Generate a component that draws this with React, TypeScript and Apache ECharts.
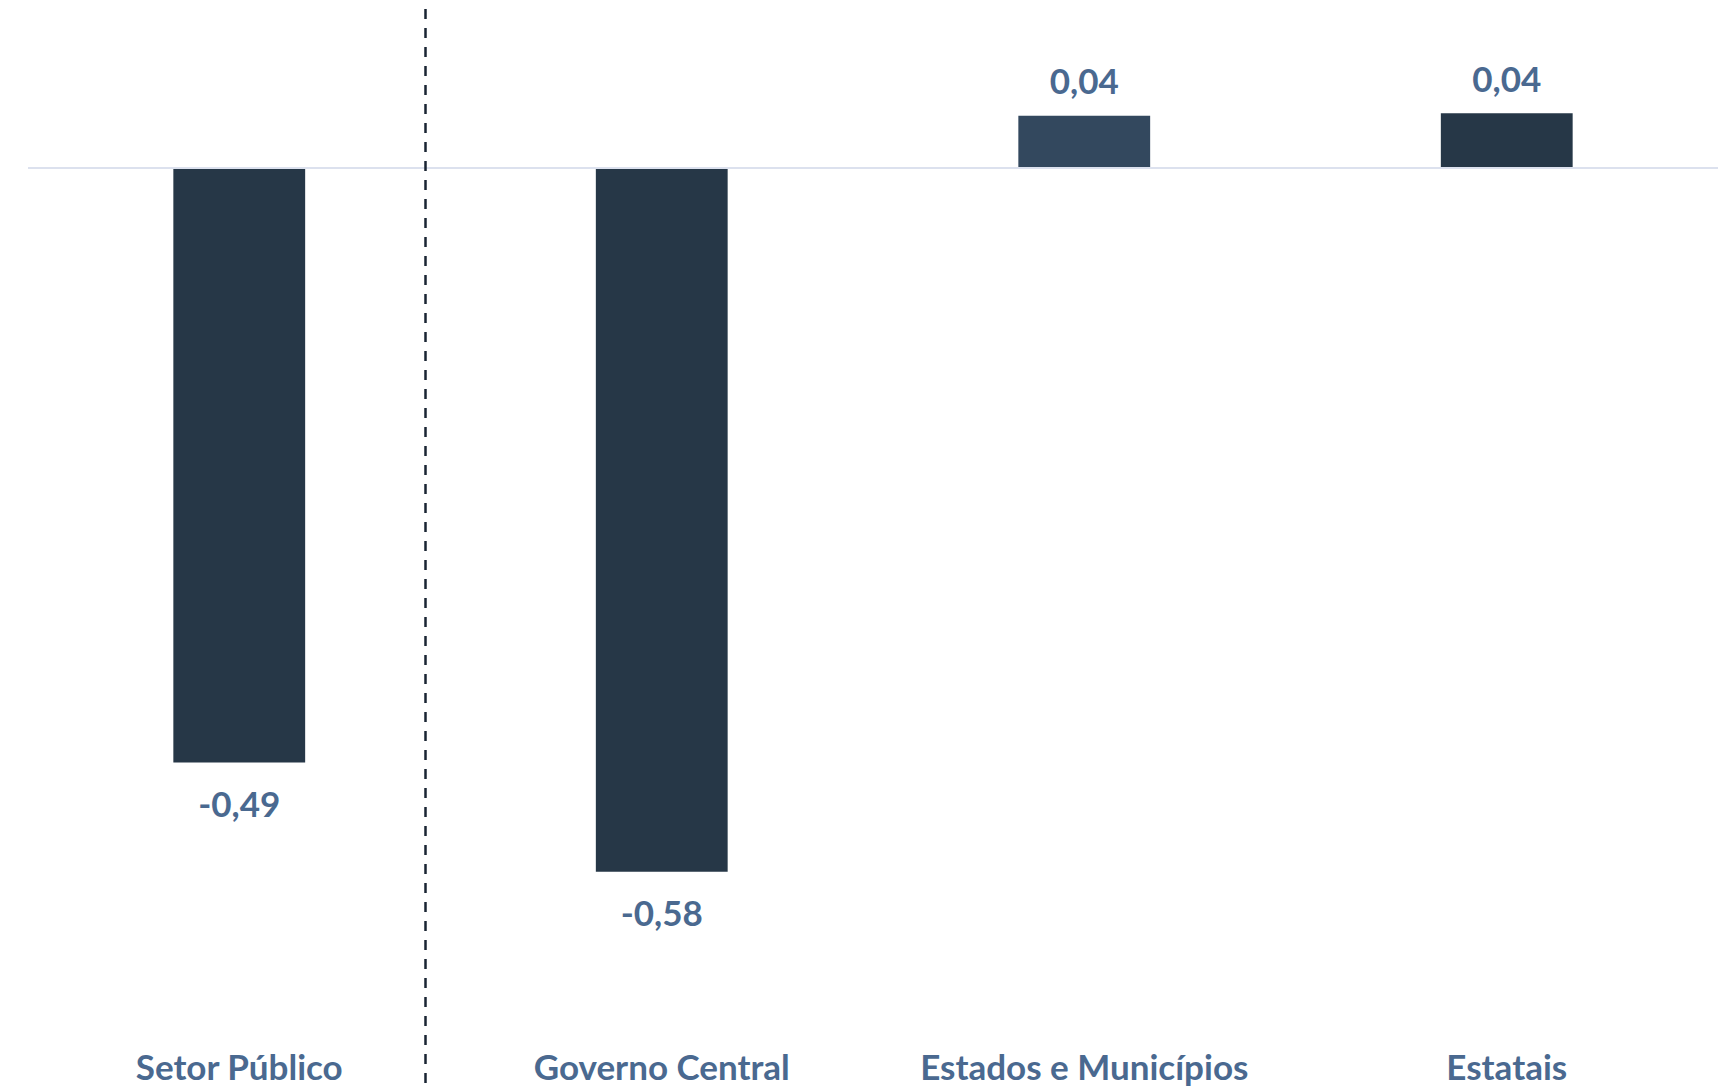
import React, { useEffect, useRef } from "react";
import * as echarts from "echarts";

const categories = ["Setor Público", "Governo Central", "Estados e Municípios", "Estatais"];
const values = [-0.49, -0.58, 0.043, 0.045];
const barColors = ["#263747", "#263747", "#33485E", "#263747"];
const separatorPosition = 0.4365; // between first and second category (value-axis units)

const TEXT_COLOR = "#4A6990";
const FONT = "Lato";

export default function App() {
  const ref = useRef<HTMLDivElement>(null);
  useEffect(() => {
    if (!ref.current) return;
    const chart = echarts.init(ref.current, undefined, { renderer: "svg" });
    const fmt = (v: number) => v.toFixed(2).replace(".", ",");
    chart.setOption({
      animation: false,
      backgroundColor: "#FFFFFF",
      grid: { left: 28, right: 3, top: 9, bottom: 4, containLabel: false },
      xAxis: [
        {
          type: "category",
          data: categories,
          axisLine: { show: false },
          axisTick: { show: false },
          axisLabel: {
            interval: 0,
            hideOverlap: false,
            margin: -35,
            color: TEXT_COLOR,
            fontFamily: FONT,
            fontWeight: "bold",
            fontSize: 35,
          },
        },
        { type: "value", min: -0.5, max: 3.5, show: false },
      ],
      yAxis: { type: "value", min: -0.754, max: 0.131, show: false },
      series: [
        {
          type: "bar",
          barWidth: "31.2%",
          data: values.map((v, i) => ({
            value: v,
            itemStyle: { color: barColors[i] },
            label: { position: v < 0 ? "bottom" : "top", distance: v < 0 ? 23 : 18 },
          })),
          label: {
            show: true,
            color: TEXT_COLOR,
            fontFamily: FONT,
            fontWeight: "bold",
            fontSize: 35,
            formatter: (p: any) => fmt(p.value),
          },
          markLine: {
            silent: true,
            symbol: "none",
            label: { show: false },
            lineStyle: { color: "#DCE1EE", width: 2, type: "solid" },
            data: [{ yAxis: 0 }],
          },
          z: 3,
        },
        {
          type: "line",
          xAxisIndex: 1,
          data: [[separatorPosition, 0]],
          showSymbol: false,
          symbol: "none",
          lineStyle: { opacity: 0 },
          markLine: {
            silent: true,
            symbol: "none",
            label: { show: false },
            lineStyle: { color: "#1A2533", width: 2.5, type: [10, 9] },
            data: [{ xAxis: separatorPosition }],
          },
        },
      ],
    });
    return () => chart.dispose();
  }, []);
  return (
    <div
      ref={ref}
      style={{ position: "fixed", left: 0, top: 0, width: 1721, height: 1087 }}
    />
  );
}
